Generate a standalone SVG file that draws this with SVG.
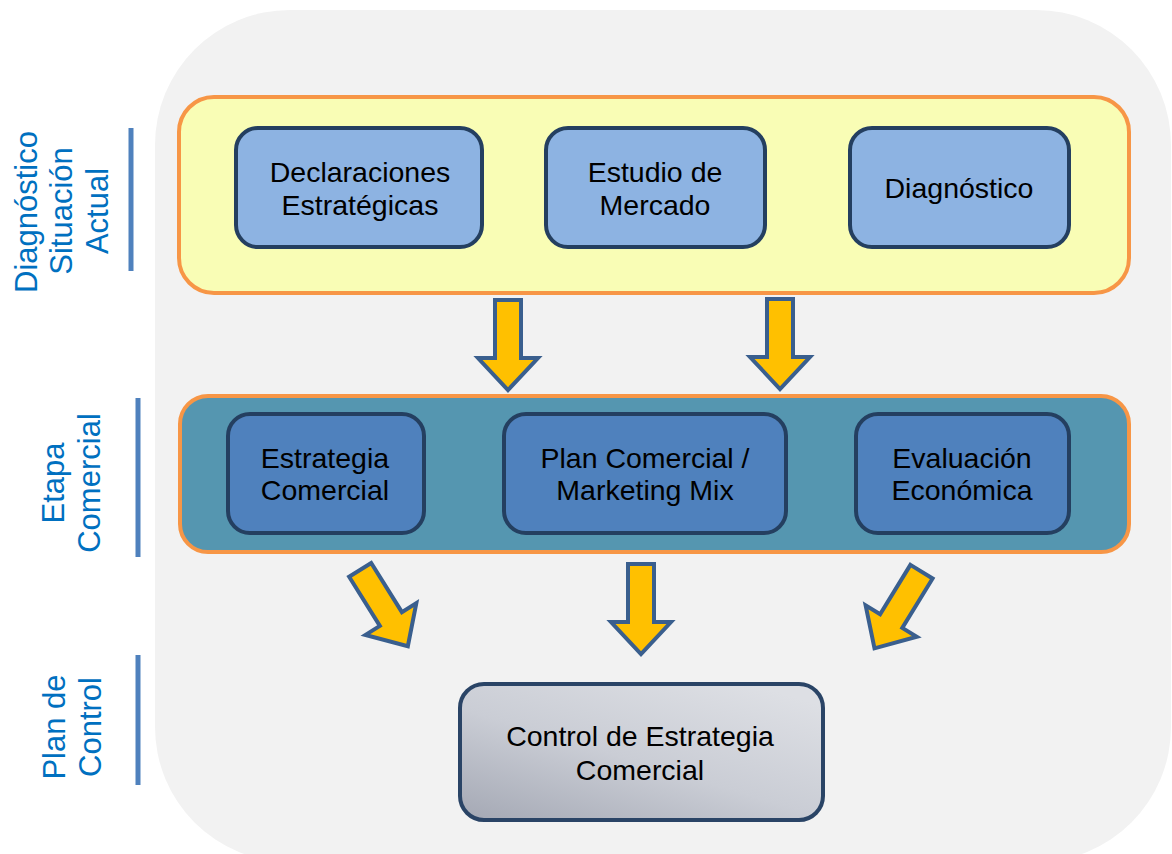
<svg xmlns="http://www.w3.org/2000/svg" width="1172" height="854" viewBox="0 0 1172 854">
<defs>
<linearGradient id="gCtrl" x1="0" y1="1" x2="0.8" y2="0">
<stop offset="0" stop-color="#A4A8B4"/>
<stop offset="0.5" stop-color="#CACDD5"/>
<stop offset="1" stop-color="#DDDFE4"/>
</linearGradient>
<path id="arr" d="M-13,-45 H13 V13 H30 L0,45 L-30,13 H-13 Z"/>
</defs>
<style>
.lbl{font-family:"Liberation Sans",Arial,sans-serif;font-size:31px;fill:#0070C0;text-anchor:middle}
.bar{stroke:#4F81BD;stroke-width:5}
.t{font-family:"Liberation Sans",Arial,sans-serif;font-size:28.5px;fill:#000;text-anchor:middle}
.n1{fill:#8DB3E2;stroke:#243F60;stroke-width:4}
.n2{fill:#4F81BD;stroke:#243F60;stroke-width:4}
.a{fill:#FFC000;stroke:#3A5F8E;stroke-width:4;stroke-linejoin:miter}
</style>
<rect x="0" y="0" width="1172" height="854" fill="#FFFFFF"/>
<rect id="bg" x="155" y="10" width="1016" height="852" rx="135" ry="135" fill="#F2F2F2"/>

<g id="label-diagnostico">
<line class="bar" x1="131" y1="128" x2="131" y2="271"/>
<text class="lbl" transform="translate(37,212) rotate(-90)">Diagnóstico</text>
<text class="lbl" transform="translate(72,211) rotate(-90)">Situación</text>
<text class="lbl" transform="translate(108,211) rotate(-90)">Actual</text>
</g>
<g id="label-etapa">
<line class="bar" x1="138" y1="398" x2="138" y2="557"/>
<text class="lbl" transform="translate(64,483) rotate(-90)">Etapa</text>
<text class="lbl" transform="translate(100,483) rotate(-90)">Comercial</text>
</g>
<g id="label-plan">
<line class="bar" x1="138" y1="655" x2="138" y2="785"/>
<text class="lbl" transform="translate(65,727) rotate(-90)">Plan de</text>
<text class="lbl" transform="translate(101,727) rotate(-90)">Control</text>
</g>

<g id="stage1">
<rect x="179" y="97" width="950" height="196" rx="35" fill="#F9FDB5" stroke="#F79646" stroke-width="4"/>
</g>
<g id="stage2">
<rect x="180" y="396" width="949" height="156" rx="28" fill="#5596B0" stroke="#F79646" stroke-width="4"/>
</g>

<g id="n-declaraciones">
<rect class="n1" x="236" y="128" width="246" height="119" rx="22"/>
<text class="t" x="360" y="182">Declaraciones</text>
<text class="t" x="360" y="215">Estratégicas</text>
</g>
<g id="n-estudio">
<rect class="n1" x="546" y="128" width="219" height="119" rx="22"/>
<text class="t" x="655" y="182">Estudio de</text>
<text class="t" x="655" y="215">Mercado</text>
</g>
<g id="n-diagnostico">
<rect class="n1" x="850" y="128" width="219" height="119" rx="22"/>
<text class="t" x="959" y="198">Diagnóstico</text>
</g>
<g id="n-estrategia">
<rect class="n2" x="228" y="414" width="196" height="119" rx="22"/>
<text class="t" x="325" y="468">Estrategia</text>
<text class="t" x="325" y="500">Comercial</text>
</g>
<g id="n-plan">
<rect class="n2" x="504" y="414" width="282" height="119" rx="22"/>
<text class="t" x="645" y="468">Plan Comercial /</text>
<text class="t" x="645" y="500">Marketing Mix</text>
</g>
<g id="n-evaluacion">
<rect class="n2" x="856" y="414" width="213" height="119" rx="22"/>
<text class="t" x="962" y="468">Evaluación</text>
<text class="t" x="962" y="500">Económica</text>
</g>
<g id="n-control">
<rect x="460" y="684" width="363" height="136" rx="24" fill="url(#gCtrl)" stroke="#2A4466" stroke-width="4"/>
<text class="t" x="640" y="746">Control de Estrategia</text>
<text class="t" x="640" y="780">Comercial</text>
</g>

<g id="connectors">
<use href="#arr" class="a" transform="translate(508,345)"/>
<use href="#arr" class="a" transform="translate(780,344)"/>
<use href="#arr" class="a" transform="translate(641,609)"/>
<use href="#arr" class="a" transform="translate(384,608) rotate(-32)"/>
<use href="#arr" class="a" transform="translate(898,610) rotate(31.5)"/>
</g>
</svg>
